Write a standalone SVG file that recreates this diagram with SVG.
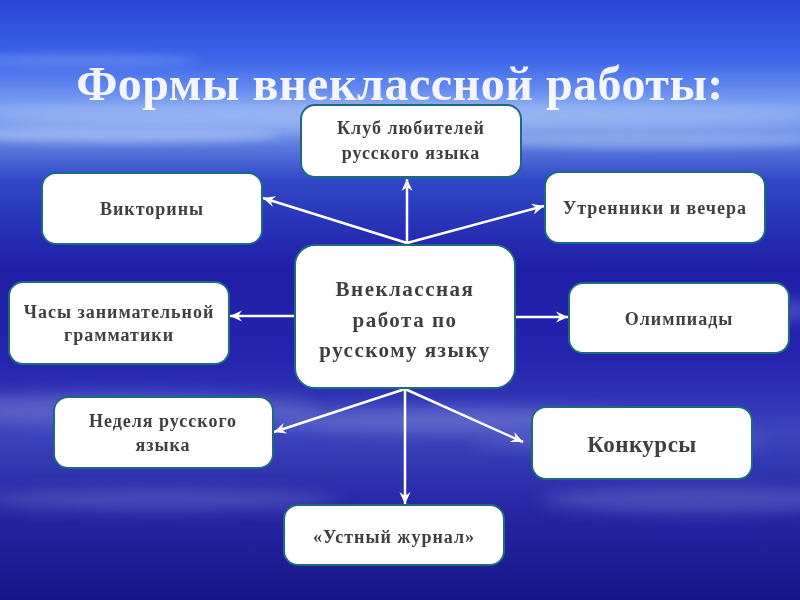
<svg xmlns="http://www.w3.org/2000/svg" width="800" height="600" viewBox="0 0 800 600">
<defs>
<linearGradient id="bg" x1="0" y1="0" x2="0" y2="1">
<stop offset="0" stop-color="#2a46d6"/>
<stop offset="0.1" stop-color="#3d66ea"/>
<stop offset="0.18" stop-color="#7fa2f2"/>
<stop offset="0.22" stop-color="#6d8fe8"/>
<stop offset="0.3" stop-color="#3048c8"/>
<stop offset="0.45" stop-color="#1e1ea6"/>
<stop offset="0.6" stop-color="#2424ae"/>
<stop offset="0.72" stop-color="#3a44bc"/>
<stop offset="0.85" stop-color="#2626a4"/>
<stop offset="1" stop-color="#16168a"/>
</linearGradient>
<filter id="blur" x="-20%" y="-100%" width="140%" height="300%"><feGaussianBlur stdDeviation="8"/></filter>
<filter id="blur2" x="-20%" y="-100%" width="140%" height="300%"><feGaussianBlur stdDeviation="4"/></filter>
<marker id="arr" viewBox="0 0 14 14" refX="13" refY="7" markerWidth="14" markerHeight="14" markerUnits="userSpaceOnUse" orient="auto">
<path d="M1,1.5 L13,7 L1,12.5 L5,7 Z" fill="#ffffff"/>
</marker>
<style>
.box{fill:#ffffff;stroke:#1d6a7c;stroke-width:2}
.t{font-family:"Liberation Serif",serif;font-weight:bold;fill:#3f3f3f;text-anchor:middle;font-size:18px;letter-spacing:1px}
.c{stroke:#ffffff;stroke-width:2.5;fill:none;marker-end:url(#arr)}
</style>
</defs>
<rect width="800" height="600" fill="url(#bg)"/>
<g opacity="0.5">
<ellipse cx="400" cy="118" rx="420" ry="14" fill="#b8cdf6" filter="url(#blur)"/>
<ellipse cx="120" cy="135" rx="160" ry="8" fill="#c8d8fa" filter="url(#blur2)"/>
<ellipse cx="650" cy="140" rx="180" ry="8" fill="#b0c6f4" filter="url(#blur2)"/>
<ellipse cx="80" cy="60" rx="120" ry="6" fill="#7a9cf0" filter="url(#blur2)"/>
<ellipse cx="720" cy="310" rx="120" ry="10" fill="#7f8cdc" filter="url(#blur)"/>
<ellipse cx="120" cy="410" rx="200" ry="16" fill="#7f86d8" filter="url(#blur)"/>
<ellipse cx="450" cy="420" rx="180" ry="12" fill="#8a92dc" filter="url(#blur)"/>
<ellipse cx="700" cy="500" rx="160" ry="12" fill="#6e76d0" filter="url(#blur)"/>
<ellipse cx="160" cy="500" rx="180" ry="10" fill="#6a72cc" filter="url(#blur)"/>
<ellipse cx="620" cy="440" rx="150" ry="10" fill="#7078d0" filter="url(#blur)"/>
</g>
<text x="400" y="100" font-family="Liberation Serif, serif" font-weight="bold" font-size="48" fill="#ffffff" text-anchor="middle" opacity="0.92" letter-spacing="0.5">Формы внеклассной работы:</text>
<g id="connectors">
<line class="c" x1="407" y1="243" x2="407" y2="179"/>
<line class="c" x1="407" y1="243" x2="263" y2="198"/>
<line class="c" x1="407" y1="243" x2="544" y2="206"/>
<line class="c" x1="295" y1="316" x2="230" y2="316"/>
<line class="c" x1="515" y1="317" x2="568" y2="317"/>
<line class="c" x1="405" y1="389" x2="274" y2="432"/>
<line class="c" x1="405" y1="389" x2="523" y2="442"/>
<line class="c" x1="405" y1="389" x2="405" y2="504"/>
</g>
<g id="center">
<rect class="box" x="295" y="245" width="220" height="143" rx="20"/>
<text class="t" style="font-size:21px;letter-spacing:1.5px" x="405" y="296">Внеклассная</text>
<text class="t" style="font-size:21px;letter-spacing:1.5px" x="405" y="327">работа по</text>
<text class="t" style="font-size:21px;letter-spacing:1.5px" x="405" y="357">русскому языку</text>
</g>
<g id="club">
<rect class="box" x="301" y="105" width="220" height="72" rx="14"/>
<text class="t" x="411" y="134">Клуб любителей</text>
<text class="t" x="411" y="159">русского языка</text>
</g>
<g id="quiz">
<rect class="box" x="42" y="173" width="220" height="71" rx="14"/>
<text class="t" x="152" y="215">Викторины</text>
</g>
<g id="morning">
<rect class="box" x="545" y="172" width="220" height="71" rx="14"/>
<text class="t" x="655" y="214">Утренники и вечера</text>
</g>
<g id="grammar">
<rect class="box" x="9" y="282" width="220" height="82" rx="14"/>
<text class="t" x="119" y="318">Часы занимательной</text>
<text class="t" x="119" y="341">грамматики</text>
</g>
<g id="olymp">
<rect class="box" x="569" y="283" width="220" height="70" rx="14"/>
<text class="t" x="679" y="325">Олимпиады</text>
</g>
<g id="week">
<rect class="box" x="54" y="397" width="219" height="71" rx="14"/>
<text class="t" x="163" y="427">Неделя русского</text>
<text class="t" x="163" y="451">языка</text>
</g>
<g id="contest">
<rect class="box" x="532" y="407" width="220" height="72" rx="14"/>
<text class="t" style="font-size:23px;letter-spacing:0.5px" x="642" y="452">Конкурсы</text>
</g>
<g id="journal">
<rect class="box" x="284" y="505" width="220" height="60" rx="14"/>
<text class="t" x="394" y="543">«Устный журнал»</text>
</g>
</svg>
